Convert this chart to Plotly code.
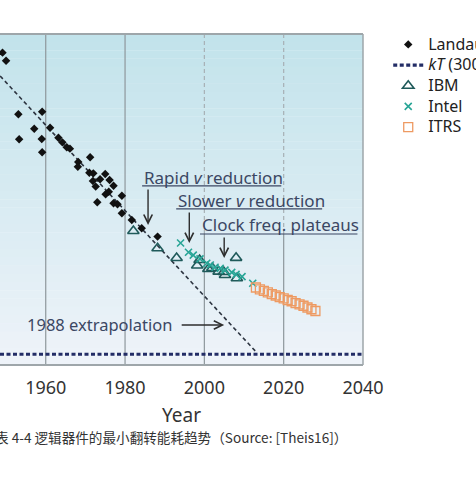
import plotly.graph_objects as go
import math

# ---------------- data (log10 of switching energy in J) ----------------
landauer_year = [1949.1, 1950.0, 1953.1, 1953.3, 1957.1, 1959.1, 1959.0, 1959.1, 1961.1, 1963.2,
                 1964.2, 1965.3, 1966.1, 1971.2, 1968.2, 1968.1, 1971.0, 1972.0, 1975.0, 1973.7,
                 1971.9, 1976.1, 1972.6, 1977.1, 1975.9, 1975.1, 1979.2, 1973.0, 1977.1, 1978.1,
                 1979.2, 1981.7, 1984.2, 1988.2]
landauer_log_energy = [-3.07, -3.53, -6.61, -8.04, -7.44, -6.46, -8.03, -8.79, -7.38, -7.95,
                       -8.22, -8.50, -8.58, -9.08, -9.35, -9.62, -9.96, -10.00, -10.04, -10.34,
                       -10.44, -10.38, -10.76, -10.71, -11.05, -11.20, -11.28, -11.66, -11.72, -11.77,
                       -12.29, -12.68, -13.15, -13.63]

ibm_year = [1982.1, 1988.2, 1993.0, 1998.8, 1998.2, 2001.0, 2002.0, 2003.6, 2004.9, 2005.2, 2008.0, 2008.2]
ibm_log_energy = [-13.31, -14.30, -14.86, -14.97, -15.29, -15.49, -15.43, -15.64, -15.66, -15.83, -14.85, -16.02]

intel_year = [1994.0, 1996.0, 1997.2, 1998.9, 2000.6, 2001.5, 2002.7, 2004.0, 2005.2, 2006.9, 2008.0, 2009.5, 2012.2]
intel_log_energy = [-14.00, -14.53, -14.69, -14.91, -15.16, -15.26, -15.39, -15.45, -15.55, -15.68, -15.80, -15.93, -16.31]

itrs_year = [2013, 2014, 2015, 2016, 2017, 2018, 2019, 2020, 2021, 2022, 2023, 2024, 2025, 2026, 2027, 2028]
itrs_log_energy = [-16.55, -16.66, -16.74, -16.83, -16.93, -17.01, -17.10, -17.17, -17.27, -17.34,
                   -17.45, -17.52, -17.60, -17.70, -17.80, -17.90]

extrap_year = [1948.5, 2013.3]
extrap_log_energy = [-4.41, -20.31]

kT_energy_J = 4.14e-21

x_range = [1948.47, 2040]
y_range = [-21, -2]
x_ticks = [1960, 1980, 2000, 2020, 2040]

legend_names = ["Landauer 1988", "<i>kT</i> (300 K)", "IBM", "Intel", "ITRS"]

# ---------------- figure ----------------
TXT = "#3b4763"
FONT = "Noto Sans"
kT_log = math.log10(kT_energy_J)


def big(s):
    return '<span style="font-size:16px">' + s + '</span>'


fig = go.Figure()

fig.add_trace(go.Scatter(x=extrap_year, y=extrap_log_energy, mode="lines",
                         line=dict(color="#2c3440", width=1.6, dash="4px,3px"),
                         showlegend=False, hoverinfo="skip"))
fig.add_trace(go.Scatter(x=x_range, y=[kT_log, kT_log], mode="lines", name=big(legend_names[1]),
                         line=dict(color="#232d66", width=3.2, dash="4px,2.5px"), legendrank=2))
fig.add_trace(go.Scatter(x=landauer_year, y=landauer_log_energy, mode="markers", name=big(legend_names[0]),
                         marker=dict(symbol="diamond", size=6.5, color="#111111"), legendrank=1))
fig.add_trace(go.Scatter(x=ibm_year, y=ibm_log_energy, mode="markers", name=big(legend_names[2]),
                         marker=dict(symbol="triangle-up-open", size=10, color="#1f5a5a",
                                     line=dict(width=1.6)), legendrank=3))
fig.add_trace(go.Scatter(x=intel_year, y=intel_log_energy, mode="markers", name=big(legend_names[3]),
                         marker=dict(symbol="x-thin-open", size=7, color="#28a596",
                                     line=dict(width=1.6, color="#28a596")), legendrank=4))
fig.add_trace(go.Scatter(x=itrs_year, y=itrs_log_energy, mode="markers", name=big(legend_names[4]),
                         marker=dict(symbol="square-open", size=9, color="#ee9a62",
                                     line=dict(width=1.3)), legendrank=5))

shapes = []
# gradient background
top = (194, 227, 235)
bot = (238, 243, 249)
n = 40
for i in range(n):
    t = i / (n - 1)
    c = tuple(round(top[k] + (bot[k] - top[k]) * t) for k in range(3))
    shapes.append(dict(type="rect", xref="paper", yref="paper", x0=0, x1=1,
                       y0=1 - (i + 1) / n, y1=1 - i / n + 0.001, layer="below",
                       line=dict(width=0), fillcolor="rgb(%d,%d,%d)" % c))
# grid lines
grid_col = "#8e979c"
for yr in [1960, 1980]:
    shapes.append(dict(type="line", xref="x", yref="paper", x0=yr, x1=yr, y0=0, y1=1,
                       layer="below", line=dict(color=grid_col, width=1.2)))
split_y = -13.48
for yr in [2000, 2020]:
    shapes.append(dict(type="line", xref="x", yref="y", x0=yr, x1=yr, y0=y_range[0], y1=split_y,
                       layer="below", line=dict(color=grid_col, width=1.2)))
    shapes.append(dict(type="line", xref="x", yref="y", x0=yr, x1=yr, y0=split_y, y1=y_range[1],
                       layer="below", line=dict(color="#a7b0b5", width=1.2, dash="4px,3px")))
# frame (top, right, bottom)
frame_col = "#9ea6aa"
shapes.append(dict(type="line", xref="paper", yref="paper", x0=0, x1=1, y0=1, y1=1,
                   line=dict(color=frame_col, width=2)))
shapes.append(dict(type="line", xref="paper", yref="paper", x0=1, x1=1, y0=0, y1=1,
                   line=dict(color=frame_col, width=1.5)))
shapes.append(dict(type="line", xref="paper", yref="paper", x0=0, x1=1, y0=0, y1=0,
                   line=dict(color=frame_col, width=2)))
# underlines of the labels
for x0, x1, yy in [(1984.3, 2019.4, -10.72), (1992.9, 2029.7, -12.04), (1998.9, 2038.6, -13.48)]:
    shapes.append(dict(type="line", xref="x", yref="y", x0=x0, x1=x1, y0=yy, y1=yy,
                       line=dict(color=TXT, width=1.1)))

annotations = []
for txt, x, y in [("Rapid <i>v</i> reduction", 1984.3, -10.21),
                  ("Slower <i>v</i> reduction", 1992.9, -11.53),
                  ("Clock freq. plateaus", 1998.9, -12.91)]:
    annotations.append(dict(text=txt, x=x, y=y, xref="x", yref="y", xanchor="left", yanchor="middle",
                            showarrow=False, font=dict(family=FONT, size=17, color=TXT)))
annotations.append(dict(text="1988 extrapolation", x=1992.4, y=-18.70, xref="x", yref="y",
                        xanchor="right", yanchor="middle", showarrow=False,
                        font=dict(family=FONT, size=16.5, color=TXT)))
for x, y, ax, ay in [(1985.8, -12.96, 0, -37), (1996.2, -14.0, 0, -32), (2005.0, -14.86, 0, -22),
                     (2005.0, -18.70, -44, 0)]:
    annotations.append(dict(text="", x=x, y=y, xref="x", yref="y", ax=ax, ay=ay, showarrow=True,
                            arrowhead=5, arrowsize=1.2, arrowwidth=1.4, arrowcolor="#2e2e2e"))
annotations.append(dict(text="表 4-4 逻辑器件的最小翻转能耗趋势（Source: [Theis16]）",
                        x=-7 / 363, y=-0.2175, xref="paper", yref="paper", xanchor="left",
                        yanchor="middle", showarrow=False,
                        font=dict(family="Noto Sans CJK SC", size=13.6, color="#333333")))

fig.update_layout(
    width=476, height=477, autosize=False,
    margin=dict(l=0, r=113, t=34, b=112, pad=0, autoexpand=False),
    paper_bgcolor="white", plot_bgcolor="white",
    shapes=shapes, annotations=annotations,
    showlegend=True,
    legend=dict(x=1.0695, y=1.015, xanchor="left", yanchor="top", bgcolor="rgba(0,0,0,0)",
                font=dict(family=FONT, size=13.6, color="#222222"), itemwidth=30,
                traceorder="normal"),
    font=dict(family=FONT),
)
fig.update_xaxes(range=x_range, tickvals=x_ticks, showgrid=False, zeroline=False, showline=False,
                 ticks="", ticklabelstandoff=10,
                 tickfont=dict(family=FONT, size=18, color="#333333"),
                 title=dict(text="Year", font=dict(family=FONT, size=19, color="#333333"), standoff=10))
fig.update_yaxes(range=y_range, showgrid=False, zeroline=False, showline=False,
                 showticklabels=False, ticks="")

fig.write_html("out.html", config={"displayModeBar": False},
               post_script="document.body.style.margin='0';document.body.style.overflow='hidden';")
